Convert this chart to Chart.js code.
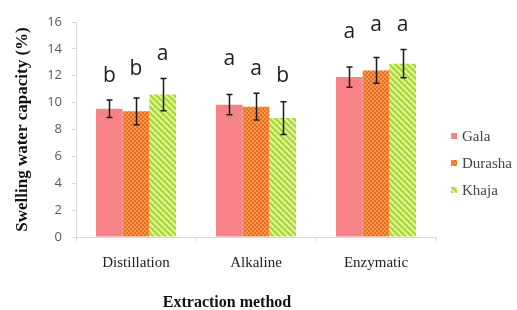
<!DOCTYPE html>
<html>
<head>
<meta charset="utf-8">
<script src="https://cdn.jsdelivr.net/npm/chart.js@4"></script>
<style>
  body { margin: 0; background: #fff; }
  #wrap { width: 517px; height: 310px; }
</style>
</head>
<body>
<div id="wrap"><canvas id="chart1" width="517" height="310"></canvas></div>
<script>
const categories = ['Distillation', 'Alkaline', 'Enzymatic'];
const seriesNames = ['Gala', 'Durasha', 'Khaja'];

const gala = [9.55, 9.85, 11.9];
const durasha = [9.35, 9.7, 12.4];
const khaja = [10.6, 8.85, 12.9];

const galaErr = [0.65, 0.75, 0.75];
const durashaErr = [1.0, 1.0, 0.95];
const khajaErr = [1.2, 1.22, 1.05];

// significance letters and the level (y value) of their baseline
const galaSig = ['b', 'a', 'a'];
const durashaSig = ['b', 'a', 'a'];
const khajaSig = ['a', 'b', 'a'];
const galaSigAt = [11.5, 12.8, 14.8];
const durashaSigAt = [12.05, 12.05, 15.3];
const khajaSigAt = [13.15, 11.55, 15.3];

const yTicks = [0, 2, 4, 6, 8, 10, 12, 14, 16];

function tile(size, paint) {
  const c = document.createElement('canvas');
  c.width = size; c.height = size;
  const g = c.getContext('2d');
  for (let x = 0; x < size; x++) {
    for (let y = 0; y < size; y++) {
      g.fillStyle = paint(x, y);
      g.fillRect(x, y, 1, 1);
    }
  }
  return g.createPattern(c, 'repeat');
}

// fills
const pinkFill = tile(4, (x, y) => ((x + y) % 4 == 0 || (x - y + 4) % 4 == 0) ? '#F98F94' : '#F77B81');
const orangeFill = tile(4, (x, y) => ((x < 2) == (y < 2)) ? '#F39A55' : '#EF6A1C');
const greenFill = tile(6, (x, y) => ((x - y + 6) % 6) < 3 ? '#A9D63C' : '#DDF09B');

const ctx = document.getElementById('chart1');

const extras = {
  id: 'extras',
  afterDatasetsDraw(chart) {
    const c = chart.ctx;
    const ys = chart.scales.y;
    chart.data.datasets.forEach((ds, i) => {
      chart.getDatasetMeta(i).data.forEach((bar, j) => {
        const v = ds.data[j], e = ds.errors[j];
        const top = ys.getPixelForValue(v + e);
        const bot = ys.getPixelForValue(v - e);
        const x = Math.round(bar.x) + 0.5;
        c.save();
        c.strokeStyle = '#1b1b1b';
        c.lineWidth = 1.5;
        c.beginPath();
        c.moveTo(x, top); c.lineTo(x, bot);
        c.moveTo(x - 3, top); c.lineTo(x + 3, top);
        c.moveTo(x - 3, bot); c.lineTo(x + 3, bot);
        c.stroke();
        c.fillStyle = '#1e1e1e';
        c.font = '21px "Open Sans"';
        c.textAlign = 'center';
        c.textBaseline = 'alphabetic';
        c.fillText(ds.sig[j], bar.x, ys.getPixelForValue(ds.sigAt[j]));
        c.restore();
      });
    });
  },
  afterDraw(chart) {
    const c = chart.ctx;
    c.save();
    // legend
    chart.data.datasets.forEach((ds, i) => {
      const y = 136 + i * 27;
      c.fillStyle = ds.backgroundColor;
      c.fillRect(451, y - 3, 6, 6);
      c.fillStyle = '#444';
      c.font = '15px "Liberation Serif"';
      c.textAlign = 'left';
      c.textBaseline = 'middle';
      c.fillText(ds.label, 462, y + 1);
    });
    // x axis title
    c.fillStyle = '#111';
    c.font = 'bold 16px "Liberation Serif"';
    c.textAlign = 'center';
    c.textBaseline = 'middle';
    c.fillText('Extraction method', 227, 303);
    c.restore();
  }
};

new Chart(ctx, {
  type: 'bar',
  data: {
    labels: categories,
    datasets: [
      { label: seriesNames[0], data: gala, errors: galaErr, sig: galaSig, sigAt: galaSigAt, backgroundColor: pinkFill },
      { label: seriesNames[1], data: durasha, errors: durashaErr, sig: durashaSig, sigAt: durashaSigAt, backgroundColor: orangeFill },
      { label: seriesNames[2], data: khaja, errors: khajaErr, sig: khajaSig, sigAt: khajaSigAt, backgroundColor: greenFill }
    ]
  },
  options: {
    responsive: false,
    animation: false,
    categoryPercentage: 0.667,
    barPercentage: 1,
    layout: { padding: { top: 22, right: 81, left: 0, bottom: 0 } },
    plugins: { legend: { display: false }, tooltip: { enabled: false } },
    scales: {
      x: {
        grid: { drawOnChartArea: false, tickLength: 4, color: '#D9D9D9', offset: true },
        border: { color: '#D9D9D9' },
        ticks: { color: '#222', padding: 13, font: { family: 'Liberation Serif', size: 15 } },
        afterFit: s => { s.height = 73; }
      },
      y: {
        min: 0,
        max: 16,
        afterBuildTicks: s => { s.ticks = yTicks.map(v => ({ value: v })); },
        grid: { drawOnChartArea: false, tickLength: 4, color: '#D9D9D9' },
        border: { color: '#D9D9D9' },
        ticks: { color: '#595959', padding: 10, font: { family: 'Open Sans', size: 13 } },
        title: {
          display: true,
          text: 'Swelling water capacity (%)',
          color: '#111',
          font: { family: 'Liberation Serif', size: 17, weight: 'bold' },
          padding: { top: 12 }
        },
        afterFit: s => { s.width = 76; }
      }
    }
  },
  plugins: [extras]
});
</script>
</body>
</html>
